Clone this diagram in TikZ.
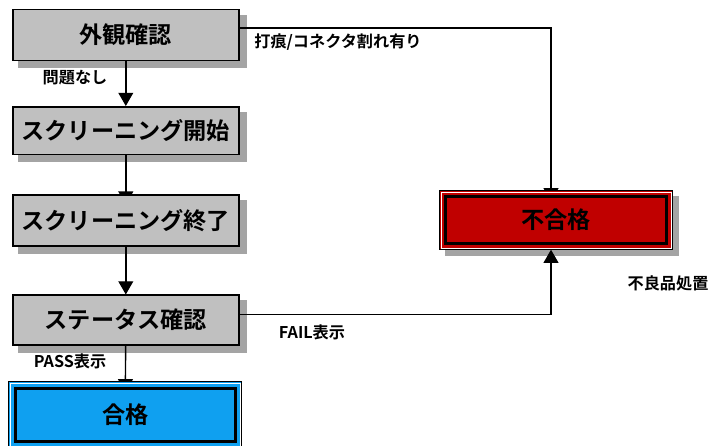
\documentclass[tikz,border=0pt]{standalone}
\usepackage{fontspec}
\setmainfont{Noto Sans CJK JP}[BoldFont={Noto Sans CJK JP Bold}]
\usepackage{tikz}
\usetikzlibrary{arrows.meta}
\usetikzlibrary{backgrounds}

\definecolor{boxgray}{HTML}{C0C0C0}
\definecolor{shadegray}{HTML}{A4A4A4}
\definecolor{passblue}{HTML}{0FA0F0}
\definecolor{failred}{HTML}{C00000}

\begin{document}
\begin{tikzpicture}[x=0.25mm,y=-0.25mm,
        stagebox/.style={draw, line width=1.3pt, fill=boxgray, minimum width=56.4mm,
            font=\bfseries\fontsize{16.5}{18}\selectfont},
        resultbox/.style={draw, line width=2.2pt, font=\bfseries\fontsize{16.5}{18}\selectfont},
        frame/.style={draw, line width=0.9pt},
        shade/.style={fill=shadegray},
        flow/.style={line width=1pt, -{Triangle[length=3.3mm,width=3.7mm]}},
        note/.style={font=\bfseries\fontsize{11.5}{13}\selectfont}]
    \useasboundingbox (0,0) rectangle (714,445);

    % process steps
    \node[stagebox, minimum height=12.75mm] (visual) at (125.8,35) {外観確認};
    \node[stagebox, minimum height=11.9mm] (scrStart) at (125.8,130.7) {スクリーニング開始};
    \node[stagebox, minimum height=12.75mm] (scrEnd) at (125.8,220.7) {スクリーニング終了};
    \node[stagebox, minimum height=12.3mm] (status) at (125.8,320) {ステータス確認};

    % results
    \node[resultbox, fill=passblue, minimum width=55mm, minimum height=13.35mm] (pass) at (125.2,415) {合格};
    \node[resultbox, fill=failred, minimum width=55.25mm, minimum height=11.75mm] (fail) at (556,220) {不合格};

    \begin{scope}[on background layer]
        % shadows
        \foreach \n in {visual,scrStart,scrEnd,status}
            \fill[shade] ([shift={(6,6)}]\n.north west) rectangle ([shift={(7,7)}]\n.south east);
        \fill[shade] ([shift={(1.5,1.5)}]fail.north west) rectangle ([shift={(11,11)}]fail.south east);

        \draw[flow, shorten >=-2.6mm] (scrStart) -- (scrEnd);
        \draw[flow, shorten >=-1.4mm] (status) -- (pass);
        \draw[flow, shorten >=-1.6mm] ([yshift=1.75mm]visual.east) -| ([xshift=-1.25mm]fail.north);
        \draw[frame, fill=passblue] ([shift={(-5,-5)}]pass.north west) rectangle ([shift={(5,5)}]pass.south east);
        \draw[white, line width=0.4pt] ([shift={(-3.3,-3.3)}]pass.north west) rectangle ([shift={(3.3,3.3)}]pass.south east);
        \draw[frame, fill=failred] ([shift={(-4.5,-4.5)}]fail.north west) rectangle ([shift={(4.5,4.5)}]fail.south east);
        \draw[white, line width=0.4pt] ([shift={(-3,-3)}]fail.north west) rectangle ([shift={(3,3)}]fail.south east);
    \end{scope}

    \draw[flow] (visual) -- (scrStart);
    \draw[flow] (scrEnd) -- (status);
    \draw[flow, shorten >=1.15mm] ([yshift=1.4mm]status.east) -| ([xshift=-1.25mm]fail.south);

    % branch labels
    \node[note] (okNote) at (75,78) {問題なし};
    \node[note] (ngNote) at (338,42) {打痕/コネクタ割れ有り};
    \node[note] (passNote) at (70,361) {PASS表示};
    \node[note] (failNote) at (312,332) {FAIL表示};
    \node[note] (scrapNote) at (668,283) {不良品処置};
\end{tikzpicture}
\end{document}
